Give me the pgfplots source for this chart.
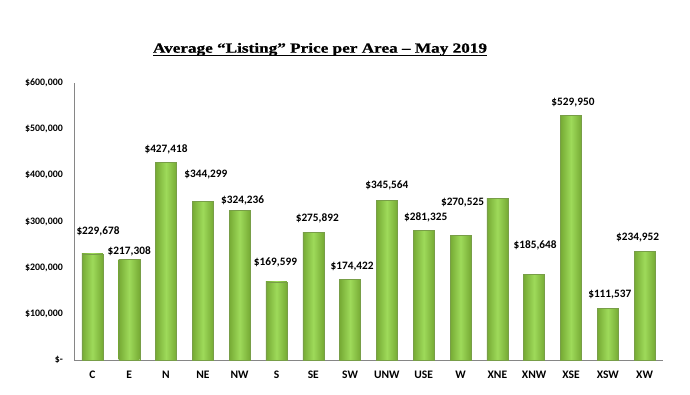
\documentclass[border=0pt]{standalone}
\usepackage{pgfplots}
\pgfplotsset{compat=1.18}
\usepackage{pgfplotstable}
\usepackage{fontspec}
\setmainfont{Carlito}
\newfontfamily\titlefont[BoldFeatures={FakeBold=0.7}]{Liberation Serif}
\definecolor{barEdge}{RGB}{118,170,52}
\definecolor{barMid}{RGB}{158,218,90}
\definecolor{barLine}{RGB}{120,158,72}
\definecolor{axisGrey}{RGB}{134,134,134}

\pgfplotstableread{
x y
0 229678
1 217308
2 427418
3 344299
4 324236
5 169599
6 275892
7 174422
8 345564
9 281325
10 270525
11 350900
12 185648
13 529950
14 111537
15 234952
}\bars

\pgfplotstableread{
x y dx dy lab
0 229678 5.6 23 \$229,678
1 217308 0 8 \$217,308
2 427418 0 13.4 \$427,418
3 344299 3 26 \$344,299
4 324236 3 10 \$324,236
5 169599 -1 19.7 \$169,599
6 275892 4 14.6 \$275,892
7 174422 2 13 \$174,422
8 345564 0 15.5 \$345,564
9 281325 2 13 \$281,325
10 270525 2 33 \$270,525
12 185648 1 28.6 \$185,648
13 529950 2 12.3 \$529,950
14 111537 2 13.5 \$111,537
15 234952 -7 13.5 \$234,952
}\labels

\begin{document}
\begin{tikzpicture}
\path[use as bounding box] (0,0) rectangle (690bp,395bp);
\begin{axis}[
  at={(74bp,35bp)}, anchor=south west,
  scale only axis, width=589bp, height=277bp,
  xmin=-0.5, xmax=15.5, ymin=0, ymax=600000,
  axis x line*=bottom, axis y line*=left,
  axis line style={axisGrey, line width=0.8pt, -},
  major tick length=0pt,
  xtick={0,...,15},
  xticklabels={C,E,N,NE,NW,S,SE,SW,UNW,USE,W,XNE,XNW,XSE,XSW,XW},
  ytick={0,100000,200000,300000,400000,500000,600000},
  yticklabels={{\$-},{\$100,000},{\$200,000},{\$300,000},{\$400,000},{\$500,000},{\$600,000}},
  scaled y ticks=false,
  xticklabel style={font=\fontsize{11.5bp}{13bp}\selectfont\bfseries, anchor=center, yshift=-15bp, inner sep=0pt},
  yticklabel style={font=\fontsize{9.9bp}{12bp}\selectfont\bfseries, anchor=east, xshift=-11bp, inner sep=0pt},
  clip=false,
]
\pgfplotsinvokeforeach{0,...,15}{
\addplot[ybar, bar width=21bp, bar shift=0pt, draw=barLine, line width=0.4pt,
  left color=barEdge, right color=barEdge, middle color=barMid,
  restrict x to domain=#1:#1]
  table[x=x, y=y] {\bars};
}
\addplot[draw=none, mark=none,
  point meta=explicit symbolic,
  nodes near coords,
  visualization depends on={\thisrow{dx} \as \dx},
  visualization depends on={\thisrow{dy} \as \dy},
  every node near coord/.style={anchor=center, inner sep=0pt,
    xshift=\dx bp, yshift=\dy bp,
    font=\fontsize{11.3bp}{13bp}\selectfont\bfseries}]
  table[x=x, y=y, meta=lab] {\labels};
\end{axis}
\node[anchor=base, inner sep=0pt] (T) at (320bp,342.3bp)
  {\resizebox{334bp}{\height}{\titlefont\fontsize{14bp}{16bp}\selectfont\bfseries Average “Listing” Price per Area – May 2019}};
\draw[line width=1.3bp] (153bp,339.8bp) -- (487bp,339.8bp);
\end{tikzpicture}
\end{document}
